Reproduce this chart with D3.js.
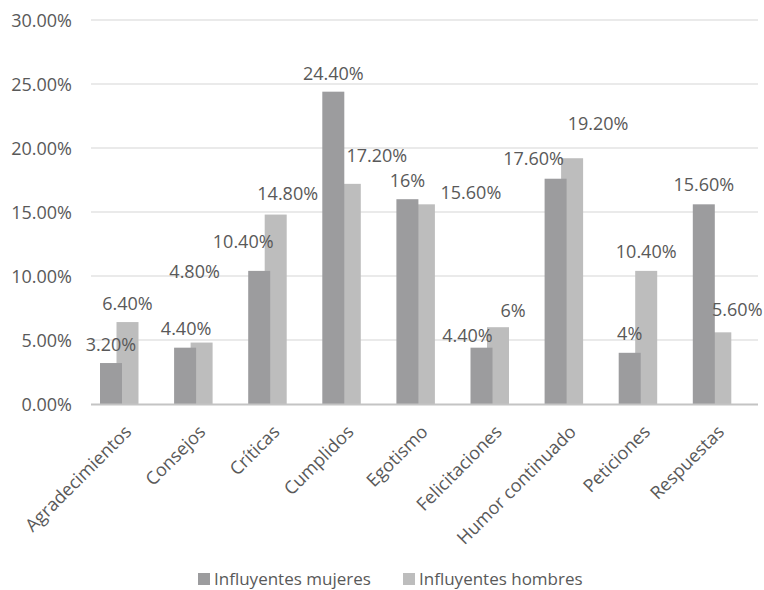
<!DOCTYPE html>
<html>
<head>
<meta charset="utf-8">
<script src="https://cdn.jsdelivr.net/npm/d3@7/dist/d3.min.js"></script>
<style>
  html, body { margin: 0; padding: 0; background: #ffffff; }
  svg text { font-family: "Open Sans", sans-serif; fill: #595959; }
</style>
</head>
<body>
<svg id="chart" width="764" height="590"></svg>
<script>
// ---- data ----
const categories = ["Agradecimientos", "Consejos", "Críticas", "Cumplidos", "Egotismo",
                    "Felicitaciones", "Humor continuado", "Peticiones", "Respuestas"];
const seriesNames = ["Influyentes mujeres", "Influyentes hombres"];
const mujeres = [3.2, 4.4, 10.4, 24.4, 16, 4.4, 17.6, 4, 15.6];
const hombres = [6.4, 4.8, 14.8, 17.2, 15.6, 6, 19.2, 10.4, 5.6];
const yTicks = [0, 5, 10, 15, 20, 25, 30];

// label nudges (layout only), in px relative to bar centre / bar top
const mujeresLabelDx = [0, 1, -16, 0, 0, -14, -22, 0, 0];
const mujeresLabelDy = [-19, -20, -30, -19, -19, -13, -21, -20, -20];
const hombresLabelDx = [0, -7, 12, 27, 47, 15, 26, 0, 17];
const hombresLabelDy = [-19, -72, -22, -29, -12, -17, -35, -20, -23];

// ---- layout ----
const colors = ["#9c9c9e", "#bdbdbd"];
const gridLeft = 91, gridRight = 758;
const svg = d3.select("#chart");

const y = d3.scaleLinear().domain([0, 30]).range([404, 20]);
const x = d3.scaleBand().domain(categories).range([82.45, 749.35]).padding(0);
const barW = 22;
const seriesOffset = d3.scaleOrdinal().domain(seriesNames).range([-19.5, -3]);

const fmt = v => Number.isInteger(v) ? v + "%" : v.toFixed(2) + "%";

// gridlines
svg.append("g").selectAll("line").data(yTicks.filter(t => t > 0)).join("line")
  .attr("x1", gridLeft).attr("x2", gridRight)
  .attr("y1", d => y(d)).attr("y2", d => y(d))
  .attr("stroke", "#e3e3e3").attr("stroke-width", 1.5);

// y tick labels
svg.append("g").selectAll("text").data(yTicks).join("text")
  .attr("x", 72).attr("y", d => y(d))
  .attr("text-anchor", "end").attr("dominant-baseline", "central")
  .attr("font-size", 18)
  .text(d => d.toFixed(2) + "%");

const center = c => x(c) + x.bandwidth() / 2;

// bars: light (hombres) first, dark (mujeres) on top
const series = [
  { name: seriesNames[1], values: hombres, color: colors[1], dx: hombresLabelDx, dy: hombresLabelDy },
  { name: seriesNames[0], values: mujeres, color: colors[0], dx: mujeresLabelDx, dy: mujeresLabelDy }
];
series.forEach(s => {
  svg.append("g").selectAll("rect").data(categories).join("rect")
    .attr("x", (c) => center(c) + seriesOffset(s.name))
    .attr("width", barW)
    .attr("y", (c, i) => y(s.values[i]))
    .attr("height", (c, i) => y(0) - y(s.values[i]))
    .attr("fill", s.color);
});

// baseline
svg.append("line")
  .attr("x1", gridLeft).attr("x2", gridRight)
  .attr("y1", y(0) + 0.5).attr("y2", y(0) + 0.5)
  .attr("stroke", "#c4c4c4").attr("stroke-width", 2);

// data labels
series.forEach(s => {
  svg.append("g").selectAll("text").data(categories).join("text")
    .attr("x", (c, i) => center(c) + seriesOffset(s.name) + barW / 2 + s.dx[i])
    .attr("y", (c, i) => y(s.values[i]) + s.dy[i])
    .attr("text-anchor", "middle").attr("dominant-baseline", "central")
    .attr("font-size", 18)
    .text((c, i) => fmt(s.values[i]));
});

// category labels
svg.append("g").selectAll("text").data(categories).join("text")
  .attr("transform", c => `translate(${center(c) + 13},433) rotate(-45)`)
  .attr("text-anchor", "end")
  .attr("font-size", 18)
  .text(c => c);

// legend
const legend = svg.append("g");
const legendX = [198, 403];
[seriesNames[0], seriesNames[1]].forEach((n, i) => {
  legend.append("rect").attr("x", legendX[i]).attr("y", 573).attr("width", 12).attr("height", 12)
    .attr("fill", colors[i]);
  legend.append("text").attr("x", legendX[i] + 16).attr("y", 578)
    .attr("dominant-baseline", "central").attr("font-size", 17).text(n);
});
</script>
</body>
</html>
